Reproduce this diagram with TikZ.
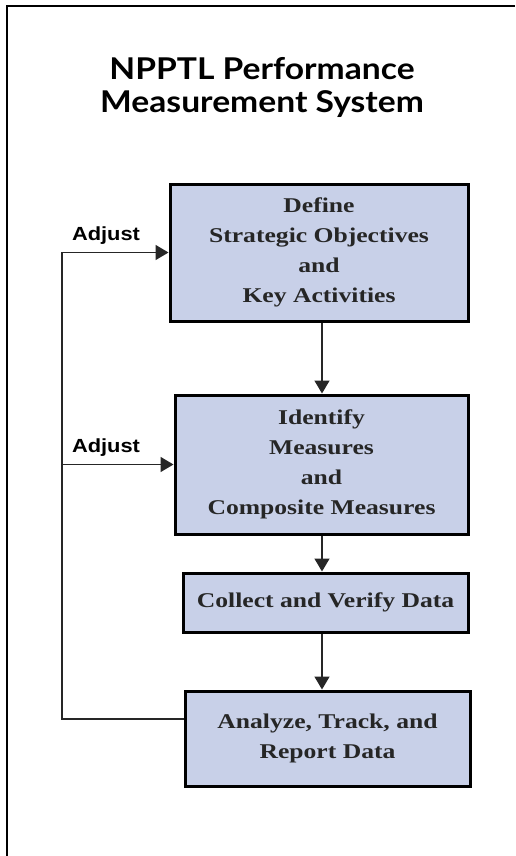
\documentclass[tikz,border=0pt]{standalone}
\usepackage{fontspec}
\setmainfont{Liberation Serif}
\setsansfont{Liberation Sans}
\newfontfamily\titlefont[FakeStretch=1.12]{Lato}
\newfontfamily\stagefont[FakeStretch=1.22]{Liberation Serif}
\newfontfamily\adjustfont[FakeStretch=1.15]{Liberation Sans}
\usetikzlibrary{arrows.meta}
\definecolor{stagefill}{RGB}{200,208,232}
\definecolor{stagetext}{RGB}{38,38,38}

\begin{document}
\begin{tikzpicture}[x=1pt,y=-1pt,
		stage/.style={draw=black,line width=3pt,fill=stagefill,text=stagetext,
			align=center,inner sep=0pt,font=\stagefont\bfseries\fontsize{21}{30}\selectfont},
		flow/.style={draw=black!85,line width=1.6pt,-{Triangle[length=13pt,width=15pt]}},
		adjustlabel/.style={font=\adjustfont\bfseries\fontsize{19}{20}\selectfont}]
	\useasboundingbox (0,0) rectangle (515,856);
	\draw[line width=1.5pt] (7,856) -- (7,6) -- (515,6);
	\node[font=\titlefont\bfseries\fontsize{30}{33}\selectfont,align=center] (title) at (262,87)
		{NPPTL Performance\\Measurement System};
	\node[stage,minimum width=298pt,minimum height=137pt] (define) at (319,252.5)
		{Define\\Strategic Objectives\\and\\Key Activities};
	\node[stage,minimum width=293pt,minimum height=139pt] (identify) at (321.5,464.5)
		{Identify\\Measures\\and\\Composite Measures};
	\node[stage,minimum width=285pt,minimum height=59pt] (collect) at (325.5,602.5)
		{Collect and Verify Data};
	\node[stage,minimum width=285pt,minimum height=95pt] (analyze) at (327.5,738.5)
		{Analyze, Track, and\\Report Data};
	\coordinate (spine) at (322,0);
	\coordinate (back) at (62,719);
	\draw[flow] (define.south -| spine) -- (identify.north -| spine);
	\draw[flow] (identify.south -| spine) -- (collect.north -| spine);
	\draw[flow] (collect.south -| spine) -- (analyze.north -| spine);
	% feedback loop
	\draw[flow] (analyze.west |- back) -- (back) |- (define.west);
	\draw[flow] (back |- identify.west) -- (identify.west);
	\node[adjustlabel] (adjust1) at (106,236) {Adjust};
	\node[adjustlabel] (adjust2) at (106,448) {Adjust};
\end{tikzpicture}
\end{document}
